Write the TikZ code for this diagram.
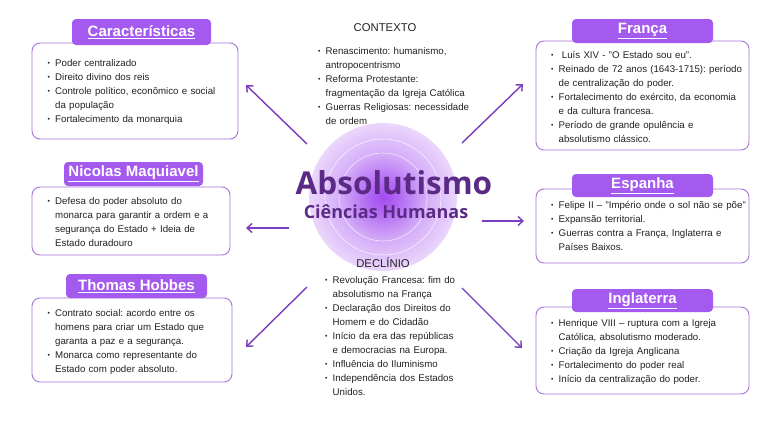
\documentclass[tikz,border=0pt]{standalone}
\usepackage{fontspec}
\setmainfont{Liberation Sans}
\newfontfamily\headfont{Open Sans}
\usetikzlibrary{arrows.meta}
\frenchspacing
\definecolor{tabc}{HTML}{A45AEE}
\definecolor{boxc}{HTML}{A574D8}
\definecolor{arrc}{HTML}{7A3CC0}
\definecolor{darkp}{HTML}{5B2A86}
\definecolor{glowc}{HTML}{A34CF0}
\definecolor{txt}{HTML}{222222}
\pgfdeclareradialshading{glowsh}{\pgfpoint{0bp}{0bp}}{color(0bp)=(glowc); color(5bp)=(glowc!85!white); color(15bp)=(glowc!45!white); color(27bp)=(glowc!18!white); color(40bp)=(glowc!5!white); color(50bp)=(white)}
\newcommand\itm[1]{\par\hangindent=7.5pt\hangafter=1\noindent\makebox[7.5pt][l]{\raisebox{0.15ex}{\scalebox{0.7}{\textbullet}}}#1\par}
\newcommand\nl{\hfil\break}
\tikzset{
  box/.style={draw=boxc, line width=0.9pt, rounded corners=8pt, fill=white, inner sep=0pt},
  tab/.style={fill=tabc, rounded corners=4pt, inner sep=0pt, text=white, font=\bfseries\fontsize{15}{17}\selectfont},
  body/.style={anchor=north west, inner sep=0pt, text width=#1, text=txt, font=\fontsize{9.7}{14}\selectfont\frenchspacing},
  arr/.style={draw=arrc, line width=1.4pt, -{Straight Barb[length=5pt,width=9pt,line width=1.4pt]}},
  ctitle/.style={text=txt, font=\fontsize{11.3}{13}\selectfont, inner sep=0pt}
}
\begin{document}
\begin{tikzpicture}[x=1pt,y=-1pt]
\useasboundingbox (0,0) rectangle (768,431);
\fill[white] (0,0) rectangle (768,431);
% glow
\shade[shading=glowsh] (383,197) circle (74);
\draw[glowc!14!white, line width=0.6pt] (383,197) circle (44);
\draw[glowc!9!white, line width=0.6pt] (383,197) circle (58);
% center
\node[text=darkp, font=\headfont\bfseries\fontsize{31.5}{34}\selectfont, inner sep=0pt] (abs) at (394,183) {Absolutismo};
\node[text=darkp, font=\headfont\bfseries\fontsize{18}{20}\selectfont, inner sep=0pt] (cien) at (386,212) {Ciências Humanas};
% arrows
\coordinate (t1) at (307,144); \coordinate (h1) at (246,85);
\coordinate (t2) at (462,143); \coordinate (h2) at (523,84);
\coordinate (t3) at (289,228); \coordinate (h3) at (246,228);
\coordinate (t4) at (482,221); \coordinate (h4) at (524,221);
\coordinate (t5) at (307,287); \coordinate (h5) at (246,347);
\coordinate (t6) at (462,288); \coordinate (h6) at (522,348);
\draw[arr] (t1) -- (h1);
\draw[arr] (t2) -- (h2);
\draw[arr] (t3) -- (h3);
\draw[arr] (t4) -- (h4);
\draw[arr] (t5) -- (h5);
\draw[arr] (t6) -- (h6);
% Contexto
\node[ctitle] (ctx) at (385,28) {CONTEXTO};
\node[body=200pt] (ctxt) at (318,40.5) {\itm{Renascimento: humanismo,\nl antropocentrismo}\itm{Reforma Protestante:\nl fragmentação da Igreja Católica}\itm{Guerras Religiosas: necessidade\nl de ordem}};
% Declinio
\node[ctitle] (dec) at (383,263) {DECLÍNIO};
\node[body=200pt] (dect) at (325,269.5) {\itm{Revolução Francesa: fim do\nl absolutismo na França}\itm{Declaração dos Direitos do\nl Homem e do Cidadão}\itm{Início da era das repúblicas\nl e democracias na Europa.}\itm{Influência do Iluminismo}\itm{Independência dos Estados\nl Unidos.}};
% Caracteristicas
\node[box, minimum width=206pt, minimum height=96pt] (car) at (135,91) {};
\node[tab, minimum width=139pt, minimum height=26pt] (cart) at (141.5,32) {\underline{Características}};
\node[body=220pt] (carx) at (47.5,52) {\itm{Poder centralizado}\itm{Direito divino dos reis}\itm{Controle político, econômico e social\nl da população}\itm{Fortalecimento da monarquia}};
% Nicolas
\node[box, minimum width=198pt, minimum height=68pt] (nic) at (131,221) {};
\node[tab, minimum width=139pt, minimum height=24pt] (nict) at (133.5,174) {\underline{Nicolas Maquiavel}};
\node[body=210pt] (nicx) at (47.5,190.5) {\itm{Defesa do poder absoluto do\nl monarca para garantir a ordem e a\nl segurança do Estado + Ideia de\nl Estado duradouro}};
% Hobbes
\node[box, minimum width=200pt, minimum height=84pt] (hob) at (132,340) {};
\node[tab, minimum width=141pt, minimum height=24pt] (hobt) at (136.5,286) {\underline{Thomas Hobbes}};
\node[body=210pt] (hobx) at (47.5,302.5) {\itm{Contrato social: acordo entre os\nl homens para criar um Estado que\nl garanta a paz e a segurança.}\itm{Monarca como representante do\nl Estado com poder absoluto.}};
% Franca
\node[box, minimum width=213pt, minimum height=109pt] (fra) at (642.5,95.5) {};
\node[tab, minimum width=141pt, minimum height=24pt] (frat) at (642.5,31) {\underline{França}};
\node[body=220pt] (frax) at (551,44.5) {\itm{ Luís XIV - "O Estado sou eu".}\itm{Reinado de 72 anos (1643-1715): período\nl de centralização do poder.}\itm{Fortalecimento do exército, da economia\nl e da cultura francesa.}\itm{Período de grande opulência e\nl absolutismo clássico.}};
% Espanha
\node[box, minimum width=213pt, minimum height=74pt] (esp) at (642.5,226) {};
\node[tab, minimum width=141pt, minimum height=23pt] (espt) at (642.5,185.5) {\underline{Espanha}};
\node[body=220pt] (espx) at (551,194.5) {\itm{Felipe II – "Império onde o sol não se põe"}\itm{Expansão territorial.}\itm{Guerras contra a França, Inglaterra e\nl Países Baixos.}};
% Inglaterra
\node[box, minimum width=213pt, minimum height=87pt] (ing) at (642.5,350.5) {};
\node[tab, minimum width=141pt, minimum height=23pt] (ingt) at (642.5,300.5) {\underline{Inglaterra}};
\node[body=220pt] (ingx) at (551,312.5) {\itm{Henrique VIII – ruptura com a Igreja\nl Católica, absolutismo moderado.}\itm{Criação da Igreja Anglicana}\itm{Fortalecimento do poder real}\itm{Início da centralização do poder.}};
\end{tikzpicture}
\end{document}
